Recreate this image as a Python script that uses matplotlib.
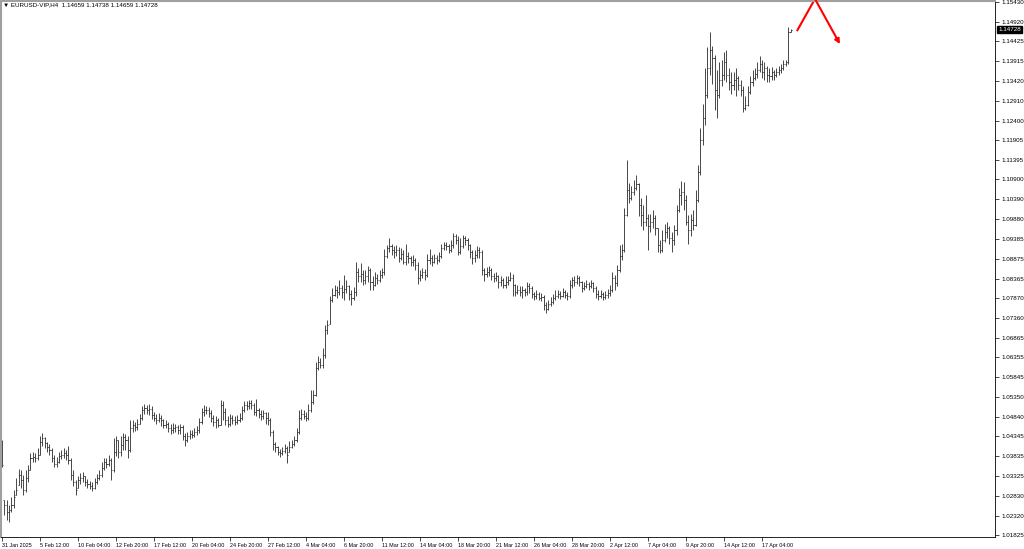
import numpy as np
import matplotlib
matplotlib.use("Agg")
import matplotlib.pyplot as plt
from matplotlib.collections import LineCollection
import matplotlib.transforms as mtransforms

# EURUSD H4 bars, prices in 1e-4 units
close_pts = [
    10361, 10259, 10241, 10246, 10259, 10279, 10297, 10335, 10323, 10297,
    10328, 10348, 10379, 10381, 10379, 10386, 10420, 10430, 10417, 10407,
    10399, 10379, 10364, 10369, 10384, 10386, 10391, 10386, 10374, 10335,
    10318, 10297, 10323, 10328, 10333, 10318, 10313, 10308, 10303, 10318,
    10328, 10335, 10353, 10369, 10364, 10374, 10348, 10394, 10425, 10394,
    10412, 10432, 10425, 10399, 10455, 10463, 10458, 10466, 10481, 10501,
    10507, 10501, 10504, 10489, 10481, 10476, 10481, 10476, 10463, 10466,
    10455, 10450, 10455, 10458, 10450, 10458, 10435, 10425, 10435, 10440,
    10437, 10445, 10450, 10471, 10496, 10501, 10501, 10494, 10481, 10471,
    10476, 10463, 10514, 10496, 10476, 10466, 10481, 10476, 10471, 10476,
    10481, 10501, 10514, 10512, 10519, 10514, 10496, 10501, 10491, 10486,
    10494, 10481, 10476, 10445, 10414, 10407, 10394, 10391, 10397, 10404,
    10386, 10407, 10414, 10425, 10445, 10481, 10491, 10486, 10481, 10501,
    10522, 10540, 10609, 10624, 10616, 10642, 10706, 10718, 10782, 10795,
    10808, 10803, 10813, 10803, 10810, 10818, 10797, 10787, 10803, 10854,
    10843, 10848, 10833, 10843, 10859, 10828, 10820, 10838, 10833, 10846,
    10854, 10895, 10915, 10920, 10910, 10905, 10910, 10889, 10900, 10879,
    10895, 10889, 10879, 10884, 10872, 10838, 10846, 10854, 10846, 10884,
    10889, 10879, 10889, 10884, 10895, 10915, 10923, 10920, 10910, 10923,
    10946, 10936, 10905, 10920, 10941, 10936, 10923, 10905, 10889, 10897,
    10910, 10905, 10859, 10848, 10854, 10859, 10843, 10838, 10843, 10828,
    10833, 10820, 10828, 10833, 10838, 10820, 10803, 10808, 10803, 10808,
    10803, 10818, 10813, 10797, 10792, 10797, 10787, 10790, 10769, 10759,
    10772, 10777, 10787, 10792, 10797, 10792, 10803, 10795, 10792, 10820,
    10833, 10828, 10838, 10828, 10813, 10818, 10823, 10818, 10825, 10813,
    10797, 10792, 10797, 10790, 10795, 10800, 10808, 10838, 10825, 10859,
    10895, 10910, 10999, 11063, 11043, 11058, 11068, 11078, 11025, 10999,
    10982, 10992, 10971, 10982, 10992, 10966, 10923, 10910, 10936, 10956,
    10966, 10941, 10936, 10961, 11012, 11050, 11058, 11038, 10982, 10961,
    10987, 10974, 11038, 11109, 11191, 11247, 11306, 11374, 11421, 11400,
    11318, 11306, 11344, 11357, 11390, 11357, 11339, 11331, 11344, 11349,
    11331, 11318, 11272, 11280, 11313, 11339, 11349, 11359, 11370, 11385,
    11364, 11374, 11357, 11354, 11364, 11357, 11364, 11370, 11374, 11385,
    11390, 11466,
]
high_pts = [
    10425, 10272, 10272, 10259, 10279, 10297, 10328, 10351, 10348, 10335,
    10348, 10361, 10391, 10394, 10391, 10404, 10435, 10442, 10432, 10420,
    10414, 10404, 10386, 10381, 10394, 10399, 10404, 10399, 10409, 10379,
    10348, 10323, 10333, 10340, 10343, 10333, 10325, 10320, 10318, 10328,
    10338, 10348, 10369, 10379, 10379, 10386, 10379, 10430, 10435, 10425,
    10435, 10442, 10440, 10435, 10476, 10476, 10471, 10478, 10491, 10512,
    10517, 10514, 10517, 10512, 10496, 10491, 10494, 10489, 10478, 10476,
    10471, 10466, 10468, 10466, 10463, 10466, 10463, 10442, 10445, 10450,
    10450, 10455, 10461, 10481, 10507, 10514, 10512, 10509, 10501, 10489,
    10486, 10481, 10527, 10524, 10507, 10486, 10491, 10489, 10486, 10489,
    10494, 10512, 10524, 10524, 10527, 10527, 10519, 10530, 10507, 10501,
    10501, 10496, 10496, 10481, 10450, 10420, 10409, 10402, 10407, 10414,
    10409, 10422, 10425, 10435, 10455, 10501, 10504, 10501, 10496, 10517,
    10553, 10553, 10624, 10639, 10634, 10660, 10718, 10731, 10792, 10813,
    10820, 10818, 10833, 10820, 10846, 10833, 10820, 10808, 10815, 10879,
    10864, 10877, 10859, 10859, 10869, 10864, 10843, 10854, 10848, 10859,
    10864, 10913, 10923, 10941, 10926, 10920, 10923, 10918, 10915, 10910,
    10926, 10905, 10895, 10897, 10889, 10879, 10859, 10864, 10861, 10900,
    10913, 10897, 10900, 10897, 10905, 10926, 10931, 10931, 10926, 10936,
    10954, 10951, 10946, 10941, 10949, 10946, 10941, 10926, 10910, 10910,
    10920, 10918, 10910, 10864, 10866, 10869, 10864, 10851, 10854, 10846,
    10843, 10838, 10843, 10843, 10854, 10848, 10823, 10820, 10818, 10818,
    10813, 10828, 10825, 10818, 10803, 10808, 10803, 10800, 10795, 10777,
    10782, 10790, 10797, 10808, 10808, 10805, 10813, 10808, 10803, 10833,
    10841, 10843, 10846, 10843, 10831, 10828, 10833, 10828, 10833, 10828,
    10818, 10808, 10808, 10803, 10805, 10810, 10820, 10854, 10846, 10872,
    10923, 10926, 11017, 11140, 11081, 11073, 11089, 11101, 11081, 11043,
    11025, 11050, 11002, 11002, 11012, 10999, 10966, 10936, 10961, 10977,
    10982, 10971, 10956, 10974, 11025, 11068, 11086, 11084, 11050, 10999,
    11002, 11012, 11063, 11127, 11221, 11283, 11374, 11428, 11466, 11431,
    11408, 11370, 11390, 11395, 11415, 11421, 11374, 11365, 11365, 11374,
    11354, 11344, 11329, 11303, 11329, 11354, 11370, 11374, 11390, 11405,
    11395, 11390, 11380, 11374, 11377, 11370, 11374, 11380, 11385, 11395,
    11395, 11479,
]
low_pts = [
    10356, 10233, 10221, 10216, 10241, 10252, 10284, 10310, 10303, 10284,
    10292, 10318, 10348, 10369, 10369, 10374, 10386, 10409, 10404, 10394,
    10386, 10369, 10356, 10356, 10366, 10376, 10379, 10374, 10364, 10323,
    10308, 10284, 10303, 10313, 10318, 10308, 10303, 10300, 10295, 10300,
    10313, 10323, 10330, 10348, 10353, 10358, 10323, 10343, 10384, 10379,
    10384, 10399, 10399, 10379, 10394, 10445, 10448, 10450, 10466, 10476,
    10491, 10491, 10489, 10478, 10473, 10466, 10471, 10461, 10455, 10455,
    10445, 10440, 10442, 10445, 10440, 10440, 10425, 10409, 10420, 10427,
    10430, 10432, 10437, 10442, 10466, 10486, 10491, 10484, 10471, 10461,
    10455, 10458, 10463, 10476, 10463, 10458, 10461, 10466, 10463, 10466,
    10471, 10476, 10496, 10501, 10504, 10504, 10489, 10486, 10481, 10476,
    10478, 10466, 10463, 10435, 10399, 10394, 10386, 10381, 10386, 10391,
    10366, 10394, 10404, 10409, 10420, 10440, 10476, 10478, 10473, 10476,
    10496, 10517, 10537, 10604, 10609, 10609, 10634, 10695, 10721, 10777,
    10792, 10787, 10795, 10787, 10782, 10800, 10782, 10769, 10782, 10792,
    10828, 10828, 10820, 10823, 10828, 10808, 10808, 10818, 10823, 10828,
    10838, 10846, 10889, 10905, 10897, 10889, 10895, 10879, 10884, 10874,
    10872, 10877, 10869, 10869, 10859, 10823, 10831, 10838, 10833, 10841,
    10874, 10869, 10877, 10874, 10879, 10889, 10910, 10910, 10902, 10905,
    10915, 10926, 10897, 10900, 10915, 10923, 10910, 10889, 10874, 10879,
    10889, 10889, 10846, 10831, 10841, 10843, 10833, 10828, 10831, 10813,
    10818, 10813, 10813, 10820, 10831, 10792, 10792, 10797, 10792, 10787,
    10792, 10795, 10800, 10787, 10782, 10785, 10782, 10779, 10757, 10749,
    10757, 10767, 10772, 10782, 10787, 10785, 10790, 10787, 10782, 10787,
    10813, 10818, 10823, 10818, 10803, 10808, 10813, 10808, 10813, 10803,
    10787, 10782, 10787, 10782, 10785, 10787, 10792, 10803, 10808, 10818,
    10854, 10884, 10905, 10997, 11030, 11038, 11050, 11063, 10997, 10971,
    10961, 10971, 10910, 10956, 10966, 10948, 10905, 10902, 10905, 10930,
    10941, 10926, 10905, 10923, 10948, 11007, 11025, 11012, 10974, 10926,
    10946, 10961, 10971, 11033, 11101, 11178, 11229, 11298, 11357, 11334,
    11267, 11247, 11298, 11329, 11344, 11339, 11318, 11308, 11318, 11303,
    11318, 11303, 11262, 11267, 11278, 11308, 11329, 11344, 11349, 11364,
    11349, 11344, 11339, 11339, 11344, 11344, 11352, 11357, 11362, 11370,
    11380, 11385,
]
first_open = 1.0422
last_bar = [1.14659, 1.14738, 1.14659, 1.14728]  # O H L C of the live bar

price_ticks = [1.15430, 1.14920, 1.14425, 1.13915, 1.13420, 1.12910, 1.12400,
               1.11905, 1.11395, 1.10900, 1.10390, 1.09880, 1.09385, 1.08875,
               1.08365, 1.07870, 1.07360, 1.06865, 1.06355, 1.05845, 1.05350,
               1.04840, 1.04345, 1.03835, 1.03325, 1.02830, 1.02320, 1.01825]
time_labels = ["31 Jan 2025", "5 Feb 12:00", "10 Feb 04:00", "12 Feb 20:00",
               "17 Feb 12:00", "20 Feb 04:00", "24 Feb 20:00", "27 Feb 12:00",
               "4 Mar 04:00", "6 Mar 20:00", "11 Mar 12:00", "14 Mar 04:00",
               "18 Mar 20:00", "21 Mar 12:00", "26 Mar 04:00", "28 Mar 20:00",
               "2 Apr 12:00", "7 Apr 04:00", "9 Apr 20:00", "14 Apr 12:00",
               "17 Apr 04:00"]
bars_per_label = 16

closes = np.append(np.array(close_pts) / 1e4, last_bar[3])
highs = np.append(np.array(high_pts) / 1e4, last_bar[1])
lows = np.append(np.array(low_pts) / 1e4, last_bar[2])
opens = np.concatenate([[first_open], closes[:-1]])
opens[-1] = last_bar[0]
opens = np.clip(opens, lows, highs)
idx = np.arange(len(closes))

plt.rcParams['font.family'] = ['Liberation Sans', 'DejaVu Sans']

fig = plt.figure(figsize=(10.24, 5.49), dpi=100)
ax = fig.add_axes([1 / 1024, 12 / 549, 994 / 1024, 536 / 549])

segs = []
for i in idx:
    segs.append([(i, lows[i]), (i, highs[i])])
    segs.append([(i - 0.45, opens[i]), (i, opens[i])])
    segs.append([(i, closes[i]), (i + 0.45, closes[i])])
ax.add_collection(LineCollection(segs, colors='#2a2a2a', linewidths=0.6))

ax.set_xlim(-0.42, 418.1)
ax.set_ylim(1.01772, 1.15457)

# red zig-zag arrow after the last bar
ax.plot([334.7, 342.3], [1.1469, 1.1551], color='#ff0000', lw=1.5,
        solid_capstyle='butt', clip_on=False)
ax.annotate('', xy=(352.8, 1.14358), xytext=(342.3, 1.1551),
            arrowprops=dict(arrowstyle='-|>', color='#ff0000', lw=1.5,
                            mutation_scale=7, shrinkA=0, shrinkB=0),
            annotation_clip=False)

ax.yaxis.tick_right()
ax.set_yticks(price_ticks)
ax.set_yticklabels(['%.5f' % p for p in price_ticks])
ax.tick_params(axis='y', labelsize=4.5, length=3, width=0.5, pad=2,
               colors='#000000')

ax.set_xticks(np.arange(len(time_labels)) * bars_per_label)
ax.set_xticklabels(time_labels, ha='left')
ax.tick_params(axis='x', labelsize=3.9, length=3, width=0.5, pad=1.5)

for s in ['right', 'bottom']:
    ax.spines[s].set_color('#000000')
    ax.spines[s].set_linewidth(0.6)
for s in ['left', 'top']:
    ax.spines[s].set_color('#a0a0a0')
    ax.spines[s].set_linewidth(1.5)

# current price marker on the price scale
trans = mtransforms.blended_transform_factory(ax.transAxes, ax.transData)
ax.text(1.003, last_bar[3], '%.5f' % last_bar[3], transform=trans,
        fontsize=4.5, color='white', va='center', ha='left',
        bbox=dict(boxstyle='square,pad=0.2', fc='black', ec='black'))

fig.text(3 / 1024, 1 - 5 / 549,
         '\u25bc EURUSD-VIP,H4  ' + ' '.join('%.5f' % v for v in last_bar),
         fontsize=4.5, va='center', ha='left',
         family=['Liberation Sans', 'DejaVu Sans'])

fig.savefig('out.png', dpi=100)
